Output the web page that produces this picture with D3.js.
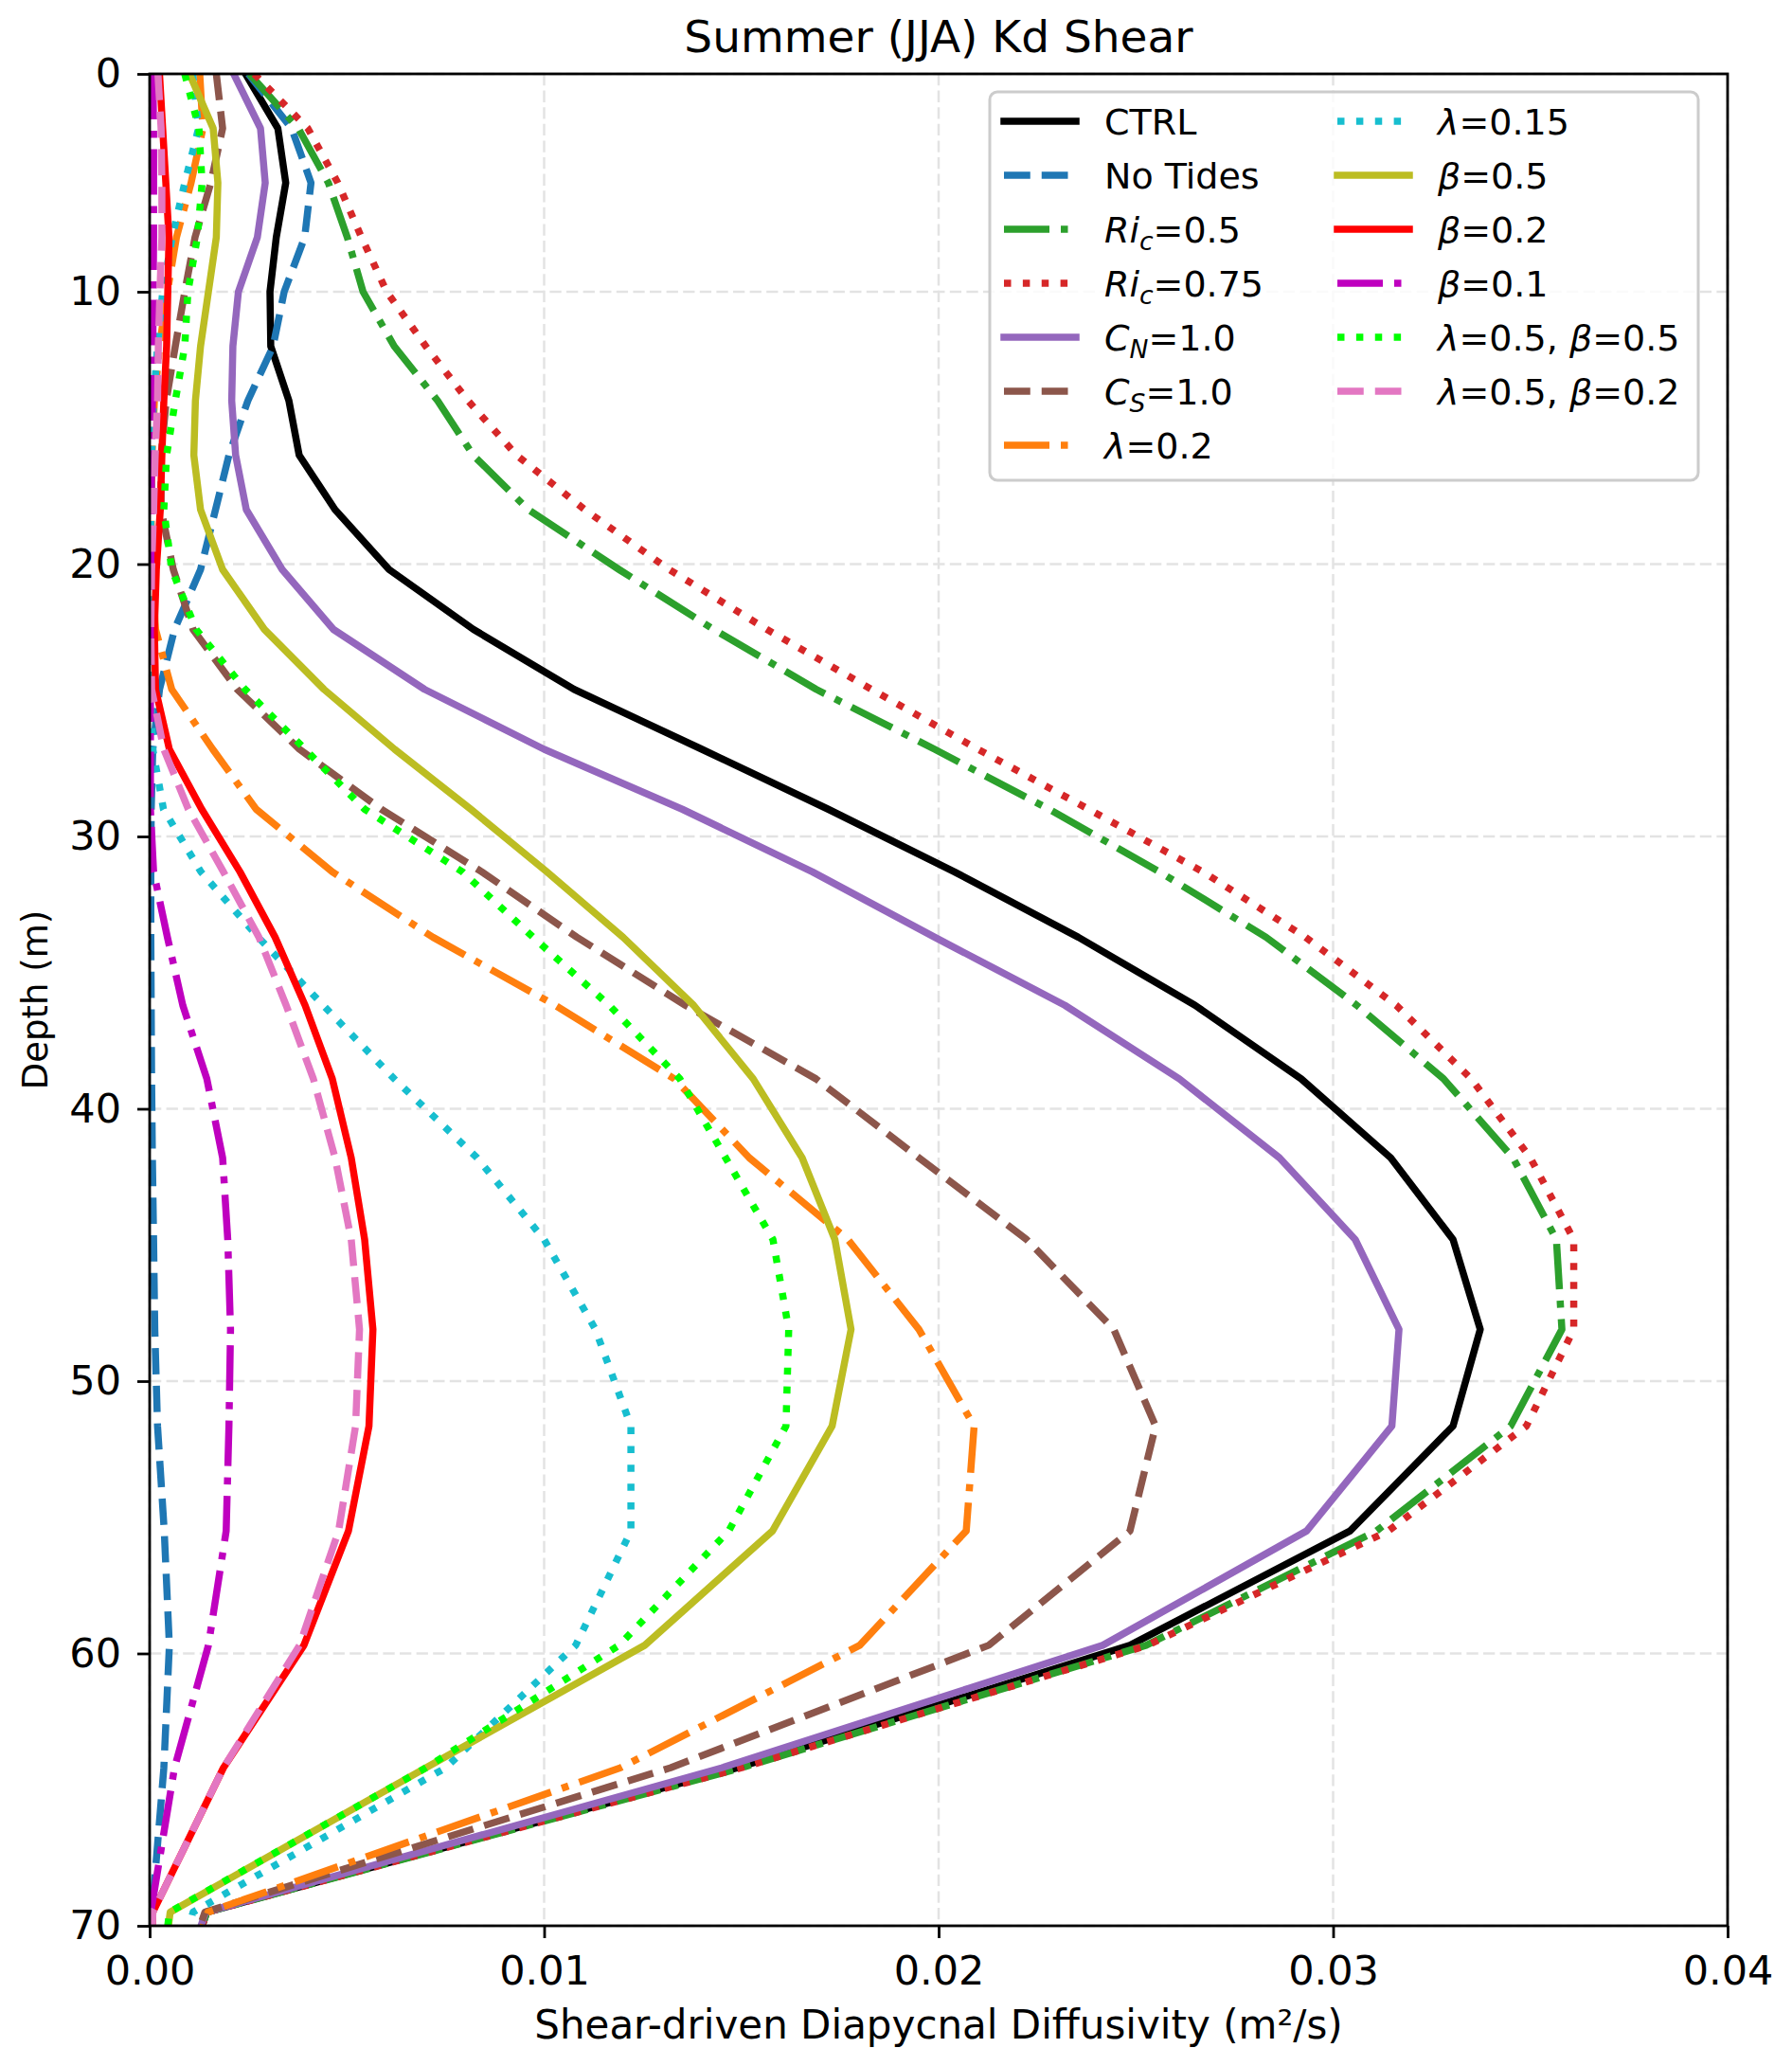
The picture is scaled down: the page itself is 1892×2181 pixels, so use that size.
<!DOCTYPE html>
<html>
<head>
<meta charset="utf-8">
<script src="https://cdn.jsdelivr.net/npm/d3@7"></script>
<style>
  body { margin: 0; background: #fff; }
  svg { display: block; }
  text { font-family: "DejaVu Sans", sans-serif; fill: #000; }
</style>
</head>
<body>
<svg id="chart" width="1892" height="2181"></svg>
<script>
// depth of each model level (m)
const depth = [2, 4, 6, 8, 10, 12, 14, 16, 18, 20.2, 22.4, 24.6, 26.8, 29.0, 31.3, 33.7,
  36.2, 38.9, 41.8, 44.8, 48.1, 51.65, 55.5, 59.7, 64.2, 69.5, 75.5];

// shear-driven Kd per run, in units of 1e-3 m2/s
const ctrl = [2.43, 3.25, 3.45, 3.21, 3.05, 3.07, 3.53, 3.79, 4.70, 6.07, 8.21, 10.76, 14.0, 17.2,
  20.4, 23.54, 26.5, 29.19, 31.46, 33.04, 33.73, 33.04, 30.43, 24.85, 14.9, 1.45, 0];
const noTides = [2.5, 3.6, 4.09, 3.93, 3.41, 3.13, 2.49, 2.01, 1.67, 1.29, 0.63, 0.25, 0.08, 0.04,
  0.03, 0.03, 0.04, 0.05, 0.07, 0.1, 0.13, 0.2, 0.37, 0.5, 0.36, 0.06, 0];
const ric05 = [2.53, 3.77, 4.53, 5.01, 5.41, 6.2, 7.3, 8.2, 9.6, 11.9, 14.3, 16.9, 19.9, 22.8,
  25.6, 28.3, 30.6, 32.8, 34.56, 35.66, 35.8, 34.5, 31.1, 25.26, 15.0, 1.45, 0];
const ric075 = [2.65, 4.01, 4.77, 5.37, 6.01, 7.0, 8.07, 9.3, 11.03, 13.17, 15.65, 18.3, 21.0, 23.8,
  26.7, 29.3, 31.6, 33.5, 35.0, 36.1, 36.1, 34.9, 31.4, 25.3, 15.0, 1.45, 0];
const cN1 = [2.13, 2.81, 2.93, 2.73, 2.25, 2.11, 2.08, 2.18, 2.45, 3.36, 4.66, 6.97, 10.0, 13.5,
  16.8, 19.9, 23.2, 26.1, 28.64, 30.56, 31.67, 31.49, 29.33, 24.16, 14.5, 1.42, 0];
const cS1 = [1.69, 1.85, 1.55, 1.15, 0.89, 0.65, 0.42, 0.29, 0.29, 0.6, 1.1, 2.22, 3.8, 5.87,
  8.42, 10.83, 13.58, 16.89, 19.5, 22.23, 24.44, 25.5, 24.85, 21.27, 13.2, 1.4, 0];
const lam02 = [1.27, 1.35, 1.05, 0.68, 0.45, 0.25, 0.12, 0.06, 0.04, 0.05, 0.15, 0.56, 1.6, 2.7,
  4.63, 7.18, 10.28, 13.3, 15.2, 17.7, 19.5, 20.9, 20.7, 18.0, 11.93, 1.48, 0];
const lam015 = [1.09, 1.24, 0.89, 0.57, 0.33, 0.2, 0.1, 0.05, 0.03, 0.02, 0.03, 0.03, 0.08, 0.35,
  1.3, 2.75, 4.4, 6.2, 8.3, 10.0, 11.3, 12.2, 12.2, 10.8, 7.5, 1.1, 0];
const beta05 = [1.01, 1.61, 1.73, 1.69, 1.49, 1.29, 1.16, 1.12, 1.29, 1.85, 2.91, 4.42, 6.21, 8.14,
  10.07, 12.0, 13.79, 15.3, 16.54, 17.37, 17.78, 17.3, 15.79, 12.55, 7.0, 0.52, 0];
const beta02 = [0.25, 0.33, 0.41, 0.49, 0.46, 0.43, 0.36, 0.31, 0.27, 0.17, 0.12, 0.15, 0.5, 1.32,
  2.29, 3.18, 3.94, 4.63, 5.11, 5.45, 5.66, 5.56, 5.04, 3.91, 1.87, 0.08, 0];
const beta01 = [0.08, 0.1, 0.1, 0.1, 0.09, 0.08, 0.07, 0.05, 0.04, 0.03, 0.02, 0.02, 0.02, 0.02,
  0.1, 0.45, 0.84, 1.45, 1.85, 1.98, 2.05, 2.01, 1.94, 1.49, 0.63, 0.03, 0];
const lam05beta05 = [0.89, 1.25, 1.33, 1.21, 0.97, 0.89, 0.65, 0.43, 0.36, 0.56, 1.18, 2.42, 3.94, 5.45,
  7.93, 9.72, 11.65, 13.44, 14.6, 15.8, 16.2, 16.13, 14.68, 11.9, 7.0, 0.5, 0];
const lam05beta02 = [0.21, 0.29, 0.31, 0.31, 0.26, 0.22, 0.2, 0.14, 0.1, 0.05, 0.03, 0.05, 0.36, 0.98,
  1.87, 2.77, 3.46, 4.15, 4.7, 5.11, 5.32, 5.22, 4.79, 3.8, 1.87, 0.08, 0];

// ticks
const xTickValues = [0, 10, 20, 30, 40];
const xTickLabels = ["0.00", "0.01", "0.02", "0.03", "0.04"];
// the top of the axis is the first level but is labelled 0 in the original
const yTickValues = [2, 10, 20, 30, 40, 50, 60, 70];
const yTickLabels = ["0", "10", "20", "30", "40", "50", "60", "70"];

// label pieces: [text, italic, subscript]
const series = [
  { values: ctrl, color: "#000000", dash: "solid", label: [["CTRL"]] },
  { values: noTides, color: "#1f77b4", dash: "dashed", label: [["No Tides"]] },
  { values: ric05, color: "#2ca02c", dash: "dashdot", label: [["Ri", 1], ["c", 1, 1], ["=0.5"]] },
  { values: ric075, color: "#d62728", dash: "dotted", label: [["Ri", 1], ["c", 1, 1], ["=0.75"]] },
  { values: cN1, color: "#9467bd", dash: "solid", label: [["C", 1], ["N", 1, 1], ["=1.0"]] },
  { values: cS1, color: "#8c564b", dash: "dashed", label: [["C", 1], ["S", 1, 1], ["=1.0"]] },
  { values: lam02, color: "#ff7f0e", dash: "dashdot", label: [["λ", 1], ["=0.2"]] },
  { values: lam015, color: "#17becf", dash: "dotted", label: [["λ", 1], ["=0.15"]] },
  { values: beta05, color: "#bcbd22", dash: "solid", label: [["β", 1], ["=0.5"]] },
  { values: beta02, color: "#ff0000", dash: "solid", label: [["β", 1], ["=0.2"]] },
  { values: beta01, color: "#bf00bf", dash: "dashdot", label: [["β", 1], ["=0.1"]] },
  { values: lam05beta05, color: "#00ff00", dash: "dotted", label: [["λ", 1], ["=0.5, "], ["β", 1], ["=0.5"]] },
  { values: lam05beta02, color: "#e377c2", dash: "dashed", label: [["λ", 1], ["=0.5, "], ["β", 1], ["=0.2"]] },
];

const LW = 7.5;
const dashes = {
  solid: null,
  dashed: [3.7 * LW, 1.6 * LW].join(" "),
  dotted: [1 * LW, 1.65 * LW].join(" "),
  dashdot: [6.4 * LW, 1.6 * LW, 1 * LW, 1.6 * LW].join(" "),
};

const plotLeft = 158, plotRight = 1824, plotTop = 78, plotBottom = 2033;
const svg = d3.select("#chart");

const x = d3.scaleLinear().domain([0, 40]).range([plotLeft, plotRight]);
const y = d3.scaleLinear().domain([2, 70]).range([plotTop, plotBottom]);

// grid
const grid = svg.append("g").attr("stroke", "#e3e3e3").attr("stroke-width", 2.5)
  .attr("stroke-dasharray", "12.3 5.3");
grid.selectAll("line.gx").data(xTickValues).join("line").attr("class", "gx")
  .attr("x1", d => x(d)).attr("x2", d => x(d)).attr("y1", plotTop).attr("y2", plotBottom);
grid.selectAll("line.gy").data(yTickValues).join("line").attr("class", "gy")
  .attr("y1", d => y(d)).attr("y2", d => y(d)).attr("x1", plotLeft).attr("x2", plotRight);

svg.append("clipPath").attr("id", "plotclip")
  .append("rect").attr("x", plotLeft).attr("y", plotTop)
  .attr("width", plotRight - plotLeft).attr("height", plotBottom - plotTop);

const line = d3.line().x(d => x(d[0])).y(d => y(d[1]));

svg.append("g").attr("clip-path", "url(#plotclip)")
  .selectAll("path").data(series).join("path")
  .attr("d", s => line(s.values.map((v, i) => [v, depth[i]])))
  .attr("fill", "none")
  .attr("stroke", s => s.color)
  .attr("stroke-width", LW)
  .attr("stroke-linejoin", "round")
  .attr("stroke-linecap", s => s.dash === "solid" ? "square" : "butt")
  .attr("stroke-dasharray", s => dashes[s.dash]);

// spines
svg.append("rect").attr("x", plotLeft).attr("y", plotTop)
  .attr("width", plotRight - plotLeft).attr("height", plotBottom - plotTop)
  .attr("fill", "none").attr("stroke", "#000").attr("stroke-width", 2.8);

// axes
const xAxis = svg.append("g").attr("transform", `translate(0,${plotBottom})`)
  .call(d3.axisBottom(x).tickValues(xTickValues).tickFormat((d, i) => xTickLabels[i])
    .tickSize(13).tickSizeOuter(0).tickPadding(18));
const yAxis = svg.append("g").attr("transform", `translate(${plotLeft},0)`)
  .call(d3.axisLeft(y).tickValues(yTickValues).tickFormat((d, i) => yTickLabels[i])
    .tickSize(13).tickSizeOuter(0).tickPadding(17));
for (const ax of [xAxis, yAxis]) {
  ax.select(".domain").remove();
  ax.selectAll(".tick line").attr("stroke", "#000").attr("stroke-width", 2.8);
  ax.selectAll(".tick text").attr("font-size", 43)
    .attr("font-family", "DejaVu Sans").attr("fill", "#000");
}

// titles
const midX = (plotLeft + plotRight) / 2;
svg.append("text").attr("x", midX).attr("y", 55)
  .attr("text-anchor", "middle").attr("font-size", 47)
  .text("Summer (JJA) Kd Shear");
svg.append("text").attr("x", midX).attr("y", 2152)
  .attr("text-anchor", "middle").attr("font-size", 42)
  .text("Shear-driven Diapycnal Diffusivity (m²/s)");
svg.append("text").attr("transform", `translate(50,${(plotTop + plotBottom) / 2}) rotate(-90)`)
  .attr("text-anchor", "middle").attr("font-size", 37)
  .text("Depth (m)");

// legend
const legend = svg.append("g");
legend.append("rect").attr("x", 1045).attr("y", 97).attr("width", 748).attr("height", 410)
  .attr("rx", 8).attr("fill", "#fff").attr("fill-opacity", 0.8)
  .attr("stroke", "#cccccc").attr("stroke-width", 3);

const fs = 38, rowH = 57, nRows = 7;
const colX = [1060, 1412];
series.forEach((s, i) => {
  const col = Math.floor(i / nRows), row = i % nRows;
  const cy = 128 + row * rowH;
  const x0 = colX[col];
  legend.append("line").attr("x1", x0).attr("x2", x0 + 2 * fs)
    .attr("y1", cy).attr("y2", cy)
    .attr("stroke", s.color).attr("stroke-width", LW)
    .attr("stroke-linecap", s.dash === "solid" ? "square" : "butt")
    .attr("stroke-dasharray", dashes[s.dash]);
  const t = legend.append("text").attr("x", x0 + 2 * fs + 30).attr("y", cy + 14)
    .attr("font-size", fs);
  let shifted = false;
  for (const [txt, ital, sub] of s.label) {
    const sp = t.append("tspan").text(txt);
    if (ital) sp.attr("font-style", "italic");
    if (sub) {
      sp.attr("font-size", fs * 0.7).attr("dy", 8);
      shifted = true;
    } else if (shifted) {
      sp.attr("dy", -8);
      shifted = false;
    }
  }
});
</script>
</body>
</html>
